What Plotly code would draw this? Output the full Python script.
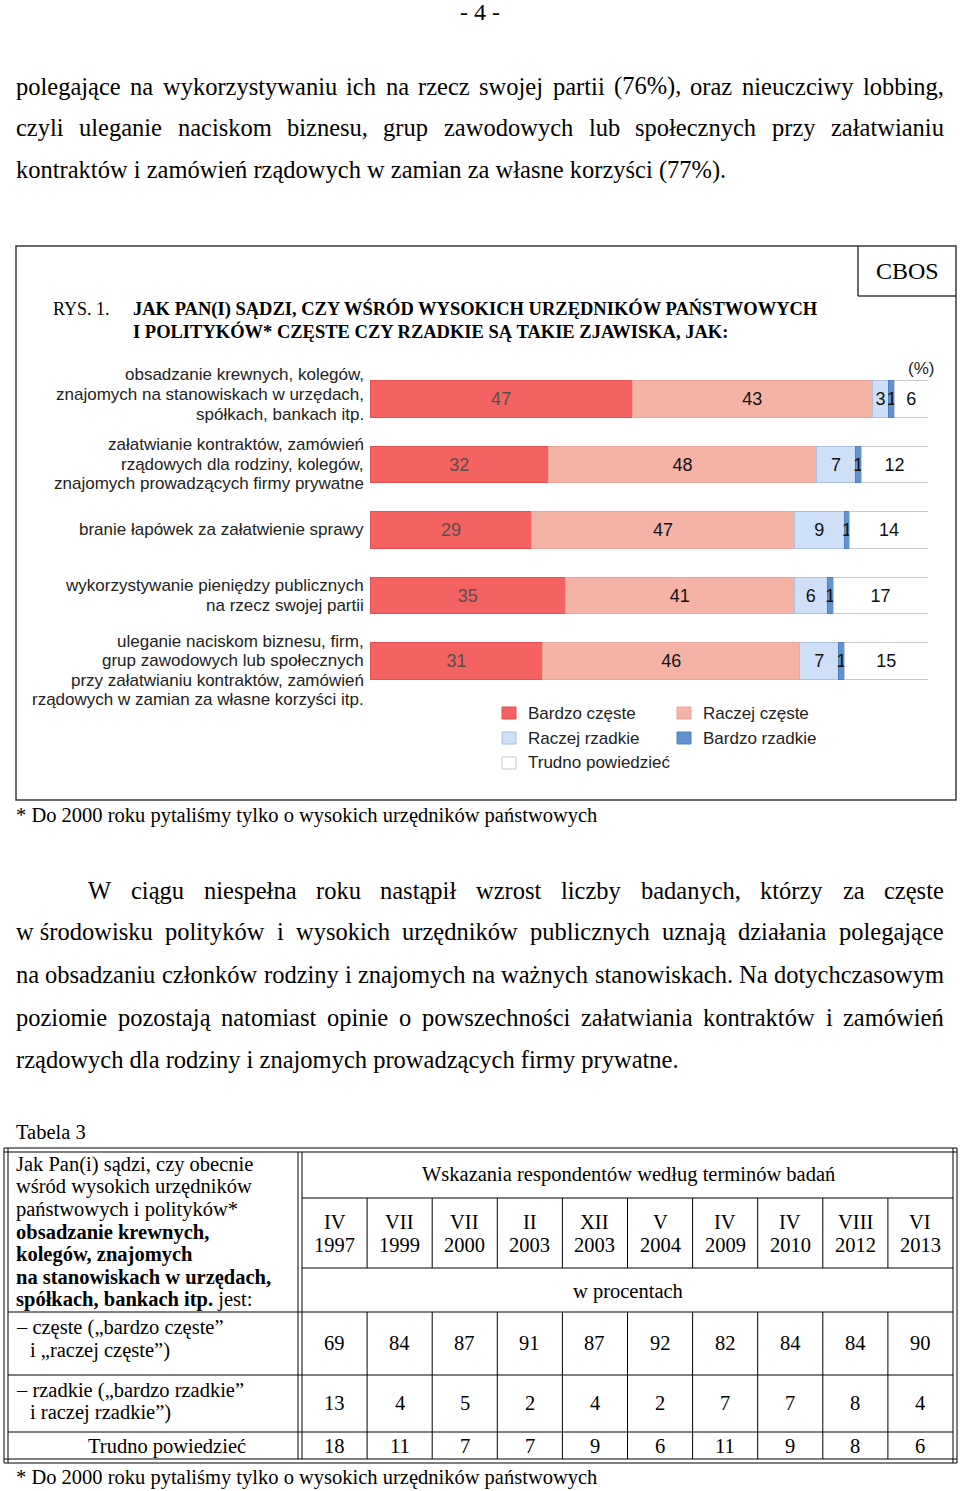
import plotly.graph_objects as go

W, H = 960, 1491
SERIF = "Liberation Serif"
SANS = "Liberation Sans"

# ---------------- chart data ----------------
categories = [
    "obsadzanie krewnych, kolegów, znajomych na stanowiskach w urzędach, spółkach, bankach itp.",
    "załatwianie kontraktów, zamówień rządowych dla rodziny, kolegów, znajomych prowadzących firmy prywatne",
    "branie łapówek za załatwienie sprawy",
    "wykorzystywanie pieniędzy publicznych na rzecz swojej partii",
    "uleganie naciskom biznesu, firm, grup zawodowych lub społecznych przy załatwianiu kontraktów, zamówień rządowych w zamian za własne korzyści itp.",
]
category_lines = [
    ["obsadzanie krewnych, kolegów,", "znajomych na stanowiskach w urzędach,", "spółkach, bankach itp."],
    ["załatwianie kontraktów, zamówień", "rządowych dla rodziny, kolegów,", "znajomych prowadzących firmy prywatne"],
    ["branie łapówek za załatwienie sprawy"],
    ["wykorzystywanie pieniędzy publicznych", "na rzecz swojej partii"],
    ["uleganie naciskom biznesu, firm,", "grup zawodowych lub społecznych",
     "przy załatwianiu kontraktów, zamówień", "rządowych w zamian za własne korzyści itp."],
]
series_names = ["Bardzo częste", "Raczej częste", "Raczej rzadkie", "Bardzo rzadkie", "Trudno powiedzieć"]
bardzo_czeste = [47, 32, 29, 35, 31]
raczej_czeste = [43, 48, 47, 41, 46]
raczej_rzadkie = [3, 7, 9, 6, 7]
bardzo_rzadkie = [1, 1, 1, 1, 1]
trudno_powiedziec = [6, 12, 14, 17, 15]
series_values = [bardzo_czeste, raczej_czeste, raczej_rzadkie, bardzo_rzadkie, trudno_powiedziec]

# ---------------- table data ----------------
term_months = ["IV", "VII", "VII", "II", "XII", "V", "IV", "IV", "VIII", "VI"]
term_years = ["1997", "1999", "2000", "2003", "2003", "2004", "2009", "2010", "2012", "2013"]
tab_czeste = [69, 84, 87, 91, 87, 92, 82, 84, 84, 90]
tab_rzadkie = [13, 4, 5, 2, 4, 2, 7, 7, 8, 4]
tab_trudno = [18, 11, 7, 7, 9, 6, 11, 9, 8, 6]

# ---------------- styles ----------------
fill_colors = ["#F46262", "#F5B3A6", "#CFDFF7", "#6193D1", "#FFFFFF"]
line_colors = ["#E25252", "#E8A496", "#A9C0E4", "#4F7FBF", "#C9C9C9"]
text_colors = ["#5a4d4d", "#111111", "#111111", "#111111", "#111111"]
label_first_dy = [-24, -20, -1, -10, -20]
LABEL_LH = 19.6

def X(px):
    return px / W

def Y(py):
    return 1 - py / H

annotations = []
shapes = []

def txt(px, py, s, size, family=SERIF, anchor="left", color="black"):
    annotations.append(dict(
        x=X(px), y=Y(py), xref="paper", yref="paper", text=s, showarrow=False,
        xanchor=anchor, yanchor="middle", borderpad=0, borderwidth=0,
        font=dict(family=family, size=size, color=color)))

def line(x0, y0, x1, y1, w=1, color="black"):
    shapes.append(dict(type="line", xref="paper", yref="paper",
                       x0=X(x0), y0=Y(y0), x1=X(x1), y1=Y(y1),
                       line=dict(color=color, width=w)))

def rect(x0, y0, x1, y1, fill, lc, w=1):
    shapes.append(dict(type="rect", xref="paper", yref="paper",
                       x0=X(x0), y0=Y(y0), x1=X(x1), y1=Y(y1),
                       fillcolor=fill, line=dict(color=lc, width=w)))

# Times New Roman metrics (Liberation Serif is metric compatible)
TW = dict(a=444, b=500, c=444, d=500, e=444, f=333, g=500, h=500, i=278, j=278, k=500, l=278,
          m=778, n=500, o=500, p=500, q=500, r=333, s=389, t=278, u=500, v=500, w=722, x=500,
          y=500, z=444, A=722, B=667, C=667, D=722, E=611, F=556, G=722, H=722, I=333, J=389,
          K=722, L=611, M=889, N=722, O=722, P=556, Q=722, R=667, S=556, T=611, U=722, V=722,
          W=944, X=722, Y=722, Z=611)
TW.update({" ": 250, "\u00a0": 250, ",": 250, ".": 250, "(": 333, ")": 333, "%": 833, "-": 333,
           "*": 500, ":": 278, "„": 444, "”": 444})
for d in "0123456789":
    TW[d] = 500
BASE = {"ą": "a", "ć": "c", "ę": "e", "ł": "l", "ń": "n", "ó": "o", "ś": "s", "ź": "z", "ż": "z",
        "Ą": "A", "Ć": "C", "Ę": "E", "Ł": "L", "Ń": "N", "Ó": "O", "Ś": "S", "Ź": "Z", "Ż": "Z"}

def tw(s, size):
    return sum(TW.get(BASE.get(ch, ch), 500) for ch in s) * size / 1000.0

def justify(s, x0, x1, py, size):
    words = s.split(" ")
    widths = [tw(wd, size) for wd in words]
    gap = (x1 - x0 - sum(widths)) / (len(words) - 1)
    x = x0
    for wd, wdt in zip(words, widths):
        txt(x, py, wd, size)
        x += wdt + gap

BODY = 24.5
# ---------------- page text ----------------
txt(480, 12, "- 4 -", 24, anchor="center")
justify("polegające na wykorzystywaniu ich na rzecz swojej partii (76%), oraz nieuczciwy lobbing,", 16, 944, 86, BODY)
justify("czyli uleganie naciskom biznesu, grup zawodowych lub społecznych przy załatwianiu", 16, 944, 128, BODY)
txt(16, 170, "kontraktów i zamówień rządowych w zamian za własne korzyści (77%).", BODY)

justify("W ciągu niespełna roku nastąpił wzrost liczby badanych, którzy za częste", 88, 944, 890, BODY)
justify("w\u00a0środowisku polityków i wysokich urzędników publicznych uznają działania polegające", 16, 944, 932, BODY)
justify("na obsadzaniu członków rodziny i znajomych na ważnych stanowiskach. Na dotychczasowym", 16, 944, 974, BODY)
justify("poziomie pozostają natomiast opinie o powszechności załatwiania kontraktów i zamówień", 16, 944, 1017, BODY)
txt(16, 1059, "rządowych dla rodziny i znajomych prowadzących firmy prywatne.", BODY)

# ---------------- chart frame ----------------
rect(16, 246, 956, 800, "rgba(0,0,0,0)", "#3a3a3a", 1.5)
line(858, 246, 858, 296, 1.5, "#3a3a3a")
line(858, 296, 956, 296, 1.5, "#3a3a3a")
txt(907, 271, "CBOS", 24, anchor="center")
txt(53, 309, "RYS. 1.", 18)
txt(133, 309, "<b>JAK PAN(I) SĄDZI, CZY WŚRÓD WYSOKICH URZĘDNIKÓW PAŃSTWOWYCH</b>", 18.5)
txt(133, 332, "<b>I POLITYKÓW* CZĘSTE CZY RZADKIE SĄ TAKIE ZJAWISKA, JAK:</b>", 18.5)
txt(934, 368, "(%)", 17, family=SANS, anchor="right", color="#222")
txt(16, 815, "* Do 2000 roku pytaliśmy tylko o wysokich urzędników państwowych", 20.5)

# category labels
for i, lines in enumerate(category_lines):
    for j, ln in enumerate(lines):
        annotations.append(dict(
            x=X(364), xref="paper", y=categories[i], yref="y", yshift=-(label_first_dy[i] + j * LABEL_LH),
            text=ln, showarrow=False, xanchor="right", yanchor="middle", borderpad=0, borderwidth=0,
            font=dict(family=SANS, size=17, color="#222")))

# legend
legend_pos = [(502, 713), (677, 713), (502, 738), (677, 738), (502, 763)]
for (lx, ly), name, fc, lc in zip(legend_pos, series_names, fill_colors, line_colors):
    rect(lx, ly - 6, lx + 14, ly + 6, fc, lc, 1)
    txt(lx + 26, ly, name, 17, family=SANS, color="#222")

# ---------------- bars ----------------
fig = go.Figure()
for name, vals, fc, lc, tc in zip(series_names, series_values, fill_colors, line_colors, text_colors):
    fig.add_trace(go.Bar(
        y=categories, x=vals, orientation="h", name=name, width=0.55,
        marker=dict(color=fc, line=dict(color=lc, width=1)),
        text=[str(v) for v in vals], textposition="inside", insidetextanchor="middle",
        constraintext="none", textangle=0,
        textfont=dict(family=SANS, size=18, color=tc), hoverinfo="x+name"))

# ---------------- table ----------------
txt(16, 1132, "Tabela 3", 20.5)
T_L, T_R, T_T, T_B = 4, 957, 1148, 1463
# double outer border
line(T_L, T_T, T_R, T_T); line(T_L, T_T + 4, T_R, T_T + 4)
line(T_L, T_B, T_R, T_B); line(T_L, T_B - 4, T_R, T_B - 4)
line(T_L, T_T, T_L, T_B); line(T_L + 4, T_T, T_L + 4, T_B)
line(T_R, T_T, T_R, T_B); line(T_R - 4, T_T, T_R - 4, T_B)
# double first-column separator
C0 = 302
line(C0 - 4, T_T + 4, C0 - 4, T_B - 4); line(C0, T_T + 4, C0, T_B - 4)
ncol = len(tab_czeste)
cw = (T_R - 4 - C0) / ncol
bounds = [C0 + k * cw for k in range(ncol + 1)]
centers = [C0 + (k + 0.5) * cw for k in range(ncol)]
line(C0, 1198, T_R - 4, 1198)
line(C0, 1268, T_R - 4, 1268)
for yy in (1312, 1375, 1432):
    line(T_L + 4, yy, T_R - 4, yy)
for bx in bounds[1:-1]:
    line(bx, 1198, bx, 1268)
    line(bx, 1312, bx, T_B - 4)

txt(628, 1174, "Wskazania respondentów według terminów badań", 20.5, anchor="center")
txt(628, 1291, "w procentach", 20.5, anchor="center")
for cx, m, yr, a, b, c in zip(centers, term_months, term_years, tab_czeste, tab_rzadkie, tab_trudno):
    txt(cx, 1222, m, 20.5, anchor="center")
    txt(cx, 1245, yr, 20.5, anchor="center")
    txt(cx, 1343, str(a), 20.5, anchor="center")
    txt(cx, 1403, str(b), 20.5, anchor="center")
    txt(cx, 1446, str(c), 20.5, anchor="center")

left_col = [
    (1164, "Jak Pan(i) sądzi, czy obecnie"),
    (1186, "wśród wysokich urzędników"),
    (1209, "państwowych i polityków*"),
    (1232, "<b>obsadzanie krewnych,</b>"),
    (1254, "<b>kolegów, znajomych</b>"),
    (1277, "<b>na stanowiskach w urzędach,</b>"),
    (1299, "<b>spółkach, bankach itp.</b> jest:"),
]
for py, s in left_col:
    txt(16, py, s, 20.5)
txt(16, 1327, "– częste („bardzo częste”", 20.5)
txt(30, 1350, "i „raczej częste”)", 20.5)
txt(16, 1390, "– rzadkie („bardzo rzadkie”", 20.5)
txt(30, 1412, "i raczej rzadkie”)", 20.5)
txt(167, 1446, "Trudno powiedzieć", 20.5, anchor="center")
txt(16, 1477, "* Do 2000 roku pytaliśmy tylko o wysokich urzędników państwowych", 20.5)

fig.update_layout(
    width=W, height=H, margin=dict(l=0, r=0, t=0, b=0),
    paper_bgcolor="white", plot_bgcolor="white",
    barmode="stack", showlegend=False,
    xaxis=dict(domain=[370 / W, 928 / W], range=[0, 100], visible=False, fixedrange=True),
    yaxis=dict(domain=[1 - 693.75 / H, 1 - 366.25 / H], type="category",
               categoryorder="array", categoryarray=categories,
               range=[len(categories) - 0.5, -0.5], visible=False, fixedrange=True),
    annotations=annotations, shapes=shapes,
    uniformtext=dict(mode=False),
)
fig.write_html("out.html", config={"displayModeBar": False},
               post_script="document.body.style.margin='0';document.body.style.overflow='hidden';")
